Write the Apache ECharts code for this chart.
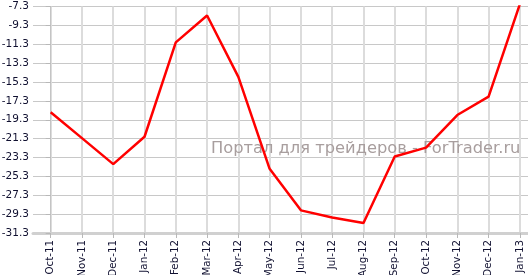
<!DOCTYPE html>
<html>
<head>
<meta charset="utf-8">
<script src="https://cdn.jsdelivr.net/npm/echarts@6/dist/echarts.min.js"></script>
<style>html,body{margin:0;padding:0;background:#fff;}#c{width:528px;height:275px;}</style>
</head>
<body>
<div id="c"></div>
<script>
var categories = ["Oct-11","Nov-11","Dec-11","Jan-12","Feb-12","Mar-12","Apr-12","May-12","Jun-12","Jul-12","Aug-12","Sep-12","Oct-12","Nov-12","Dec-12","Jan-13"];
var values = [-18.5, -21.25, -24.0, -21.1, -11.1, -8.25, -14.75, -24.5, -28.9, -29.65, -30.25, -23.2, -22.25, -18.8, -16.85, -7.05];
var yTicks = {min: -31.3, max: -7.3, step: 2};
var watermark = "Портал для трейдеров - ForTrader.ru";

var idx = categories.map(function(c,i){return i;});
var chart = echarts.init(document.getElementById('c'), null, {renderer:'canvas'});
chart.setOption({
  animation: false,
  grid: {left: 33, right: 0, top: 6.5, bottom: 42, containLabel: false, outerBoundsMode: 'none'},
  graphic: [{
    type: 'text', left: 211, top: 141, z: 1, zlevel: 0,
    style: {text: watermark, font: '16.3px "DejaVu Sans"', fill: '#a89e9e'}
  }],
  xAxis: {
    type: 'value', min: -0.565, max: 15.26,
    axisLine: {show: true, onZero: false, lineStyle: {color: '#d0d0d0', width: 3}},
    axisTick: {show: true, customValues: idx, length: 5, lineStyle: {color: '#b8b8b8'}},
    axisLabel: {customValues: idx, rotate: 90, margin: 7, color: '#101030',
      fontFamily: 'DejaVu Sans', fontSize: 10.3,
      formatter: function(v){return categories[Math.round(v)];}},
    splitLine: {show: true, lineStyle: {color: '#dcdcdc', width: 2}}
  },
  yAxis: {
    type: 'value', min: yTicks.min, max: yTicks.max, interval: yTicks.step,
    axisLine: {show: true, lineStyle: {color: '#c4c4c4', width: 1}},
    axisTick: {show: true, length: 5, lineStyle: {color: '#b8b8b8'}},
    axisLabel: {margin: 4, color: '#101030', fontFamily: 'DejaVu Sans', fontSize: 10.5,
      formatter: function(v){return v.toFixed(1);}},
    splitLine: {show: true, lineStyle: {color: '#c8c8c8', width: 1}}
  },
  series: [{
    type: 'line', z: 5,
    data: values.map(function(v,i){return [i, v];}),
    showSymbol: false, symbol: 'none',
    lineStyle: {color: '#ff0000', width: 2.5}
  }]
});
</script>
</body>
</html>
